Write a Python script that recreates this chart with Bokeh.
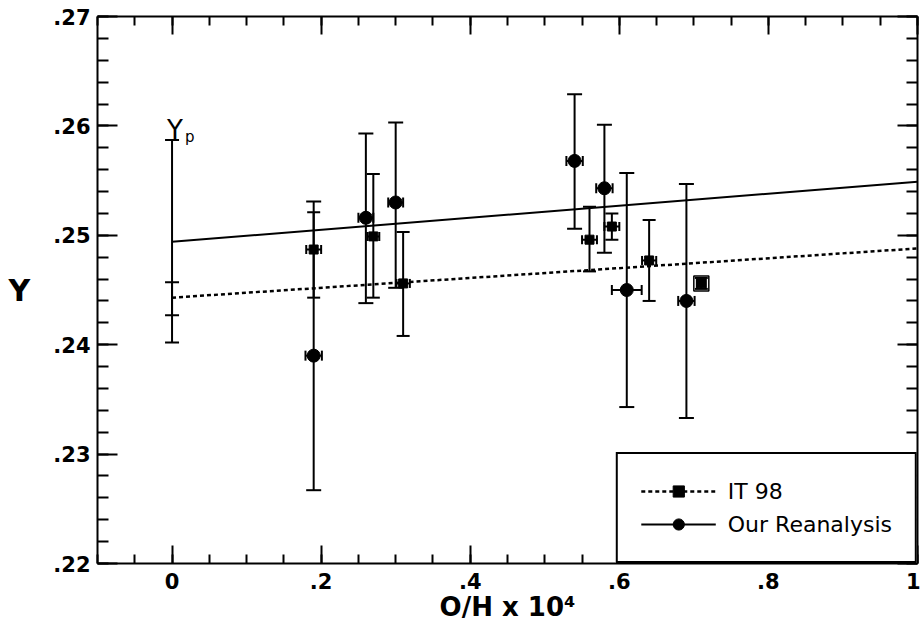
from bokeh.plotting import figure
from bokeh.models import (ColumnDataSource, Whisker, TeeHead, LinearAxis, FixedTicker,
                          CustomJSTickFormatter, Legend, LegendItem, Range1d)
from bokeh.core.properties import value
from bokeh.embed import file_html
from bokeh.resources import INLINE

# ---- data ----
# Our Reanalysis (filled circles)
our_x = [0.19, 0.26, 0.30, 0.54, 0.58, 0.61, 0.69]
our_xerr = [0.011, 0.010, 0.010, 0.011, 0.011, 0.020, 0.011]
our_y = [0.2390, 0.2516, 0.2530, 0.2568, 0.2543, 0.2450, 0.2440]
our_ylo = [0.2267, 0.2438, 0.2452, 0.2506, 0.2484, 0.2343, 0.2333]
our_yhi = [0.2531, 0.2593, 0.2603, 0.2629, 0.2601, 0.2557, 0.2547]

# IT 98 (small filled squares)
it_x = [0.19, 0.27, 0.31, 0.56, 0.59, 0.64, 0.71]
it_xerr = [0.010, 0.008, 0.009, 0.010, 0.010, 0.0095, 0.006]
it_y = [0.2487, 0.2499, 0.2456, 0.2496, 0.2508, 0.2477, 0.2456]
it_ylo = [0.2443, 0.2443, 0.2408, 0.2467, 0.2496, 0.2440, 0.2451]
it_yhi = [0.2521, 0.2556, 0.2503, 0.2526, 0.2520, 0.2514, 0.2461]
boxed_x = [0.71]
boxed_y = [0.2456]

# primordial values at O/H = 0
yp_x = [0.0]
yp_our_lo = [0.2402]
yp_our_hi = [0.2587]
yp_it_lo = [0.2427]
yp_it_hi = [0.2457]

# linear fits
fit_x = [0.0, 1.0]
fit_our = [0.2494, 0.2549]
fit_it = [0.2443, 0.2488]

x_major = [0.0, 0.2, 0.4, 0.6, 0.8, 1.0]
x_minor = [round(-0.1 + 0.05 * i, 3) for i in range(23)]
y_major = [0.22, 0.23, 0.24, 0.25, 0.26, 0.27]
y_minor = [round(0.22 + 0.002 * i, 4) for i in range(26)]

FONT = "DejaVu Sans"

p = figure(width=920, height=633, x_range=Range1d(-0.1, 1.0), y_range=Range1d(0.22, 0.27),
           output_backend="svg", toolbar_location=None,
           min_border_left=97, min_border_right=3, min_border_top=16, min_border_bottom=70)
p.outline_line_color = None
p.xgrid.visible = False
p.ygrid.visible = False
p.background_fill_color = "white"
p.border_fill_color = "white"

xf = CustomJSTickFormatter(code="""
const s = tick.toFixed(1);
if (s == '0.0' || s == '-0.0') return '0';
if (s == '1.0') return '1';
return s.replace(/^0/, '');
""")
yf = CustomJSTickFormatter(code="return tick.toFixed(2).replace(/^0/, '');")

def style_axis(ax, major_len, minor_len):
    ax.axis_line_width = 2
    ax.axis_line_color = "black"
    ax.major_tick_in = major_len
    ax.major_tick_out = 0
    ax.minor_tick_in = minor_len
    ax.minor_tick_out = 0
    ax.major_tick_line_width = 2
    ax.minor_tick_line_width = 2
    ax.major_tick_line_color = "black"
    ax.minor_tick_line_color = "black"

xax = p.xaxis[0]
xax.ticker = FixedTicker(ticks=x_major, minor_ticks=x_minor)
xax.formatter = xf
style_axis(xax, 18, 9)
xax.major_label_text_font = FONT
xax.major_label_text_font_style = "bold"
xax.major_label_text_font_size = "21px"
xax.major_label_text_color = "black"
xax.major_label_standoff = 9
xax.axis_label = "O/H x 10\u2074"
xax.axis_label_text_font = FONT
xax.axis_label_text_font_style = "bold"
xax.axis_label_text_font_size = "26px"
xax.axis_label_text_color = "black"
xax.axis_label_standoff = 0

yax = p.yaxis[0]
yax.ticker = FixedTicker(ticks=y_major, minor_ticks=y_minor)
yax.formatter = yf
style_axis(yax, 20, 11)
yax.major_label_text_font = FONT
yax.major_label_text_font_style = "bold"
yax.major_label_text_font_size = "21px"
yax.major_label_text_color = "black"
yax.major_label_standoff = 7
yax.axis_label = "Y"
yax.axis_label_orientation = "horizontal"
yax.axis_label_text_font = FONT
yax.axis_label_text_font_style = "bold"
yax.axis_label_text_font_size = "30px"
yax.axis_label_text_color = "black"
yax.axis_label_standoff = 20

blank = CustomJSTickFormatter(code="return '';")
top = LinearAxis(ticker=FixedTicker(ticks=x_major, minor_ticks=x_minor),
                 formatter=blank, major_label_standoff=0)
style_axis(top, 18, 9)
p.add_layout(top, "above")
right = LinearAxis(ticker=FixedTicker(ticks=y_major, minor_ticks=y_minor),
                   formatter=blank, major_label_standoff=0)
style_axis(right, 20, 11)
p.add_layout(right, "right")

# ---- fits ----
l_our = p.line(fit_x, fit_our, line_color="black", line_width=2)
l_it = p.line(fit_x, fit_it, line_color="black", line_width=2.5, line_dash="4 3")

# ---- Yp error bars ----
yp_src_our = ColumnDataSource(dict(x=yp_x, lo=yp_our_lo, hi=yp_our_hi))
yp_src_it = ColumnDataSource(dict(x=yp_x, lo=yp_it_lo, hi=yp_it_hi))
for src in (yp_src_our, yp_src_it):
    p.add_layout(Whisker(source=src, base="x", lower="lo", upper="hi", dimension="height",
                         line_width=2, line_color="black",
                         upper_head=TeeHead(size=14, line_width=2),
                         lower_head=TeeHead(size=14, line_width=2)))

p.text(x=yp_x, y=yp_our_hi, text=["Y"], text_align="center", text_baseline="alphabetic",
       x_offset=3, y_offset=-10, text_font=value(FONT), text_font_size="26px", text_color="black")
p.text(x=yp_x, y=yp_our_hi, text=["p"], text_align="left", text_baseline="alphabetic",
       x_offset=13, y_offset=-3, text_font=value(FONT), text_font_size="15px", text_color="black")

# ---- data points with error bars ----
def add_series(xs, xerr, ys, ylo, yhi, ycap, xcap):
    src = ColumnDataSource(dict(x=xs, y=ys, ylo=ylo, yhi=yhi,
                                xlo=[a - e for a, e in zip(xs, xerr)],
                                xhi=[a + e for a, e in zip(xs, xerr)]))
    p.add_layout(Whisker(source=src, base="x", lower="ylo", upper="yhi", dimension="height",
                         line_width=2, line_color="black",
                         upper_head=TeeHead(size=ycap, line_width=2),
                         lower_head=TeeHead(size=ycap, line_width=2)))
    p.add_layout(Whisker(source=src, base="y", lower="xlo", upper="xhi", dimension="width",
                         line_width=2, line_color="black",
                         upper_head=TeeHead(size=xcap, line_width=2),
                         lower_head=TeeHead(size=xcap, line_width=2)))
    return src

src_our = add_series(our_x, our_xerr, our_y, our_ylo, our_yhi, 15, 10)
src_it = add_series(it_x, it_xerr, it_y, it_ylo, it_yhi, 13, 9)

m_our = p.scatter("x", "y", source=src_our, marker="circle", size=13,
                  fill_color="black", line_color="black")
m_it = p.scatter("x", "y", source=src_it, marker="square", size=9,
                 fill_color="black", line_color="black")
p.scatter(boxed_x, boxed_y, marker="square", size=15, fill_color=None,
          line_color="black", line_width=1.5)

legend = Legend(items=[LegendItem(label="IT 98", renderers=[l_it, m_it]),
                       LegendItem(label="Our Reanalysis", renderers=[l_our, m_our])],
                location="bottom_right", margin=0, padding=23, spacing=5,
                glyph_width=75, glyph_height=28, label_height=28, label_width=164,
                label_standoff=12, label_text_font=FONT, label_text_font_size="22px",
                label_text_color="black", border_line_color="black", border_line_width=2,
                border_line_alpha=1.0,
                background_fill_color="white", background_fill_alpha=1.0)
p.add_layout(legend)

open("out.html", "w").write(file_html(p, INLINE))
